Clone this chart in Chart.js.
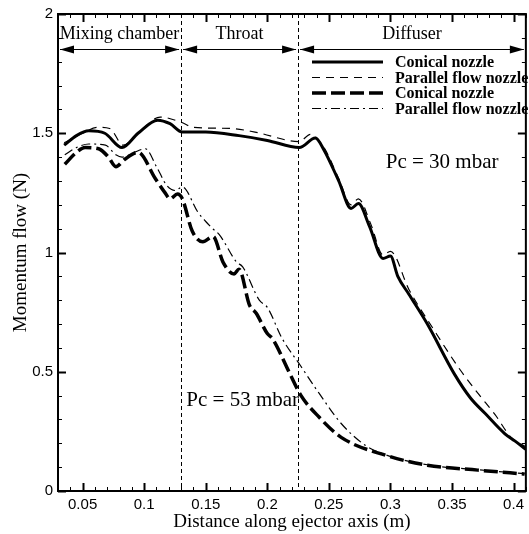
<!DOCTYPE html>
<html lang="en">
<head>
<meta charset="UTF-8">
<title>Momentum flow along ejector axis</title>
<script src="https://cdn.jsdelivr.net/npm/chart.js@4"></script>
<style>
    html, body { margin: 0; padding: 0; background: #fff; }
    canvas { display: block; }
</style>
</head>
<body>
<canvas id="chart" width="529" height="534"></canvas>
<script>
// --- data ---
const conical30X = [0.035, 0.045, 0.055, 0.068, 0.082, 0.095, 0.111, 0.121, 0.131, 0.15, 0.177, 0.2, 0.226, 0.239, 0.246, 0.258, 0.268, 0.274, 0.283, 0.294, 0.300, 0.306, 0.315, 0.330, 0.352, 0.365, 0.377, 0.393, 0.401, 0.410];
const conical30Y = [1.45, 1.49, 1.51, 1.50, 1.44, 1.50, 1.555, 1.54, 1.505, 1.505, 1.49, 1.47, 1.44, 1.48, 1.43, 1.30, 1.185, 1.205, 1.11, 0.975, 0.985, 0.90, 0.825, 0.70, 0.49, 0.39, 0.325, 0.24, 0.21, 0.175];

const parallel30X = [0.035, 0.05, 0.062, 0.072, 0.083, 0.097, 0.113, 0.130, 0.140, 0.170, 0.190, 0.226, 0.235, 0.246, 0.258, 0.268, 0.274, 0.284, 0.294, 0.300, 0.315, 0.336, 0.355, 0.371, 0.385, 0.398, 0.410];
const parallel30Y = [1.46, 1.50, 1.525, 1.52, 1.45, 1.51, 1.568, 1.546, 1.525, 1.52, 1.505, 1.465, 1.495, 1.44, 1.31, 1.20, 1.225, 1.12, 0.99, 1.005, 0.845, 0.67, 0.52, 0.41, 0.32, 0.225, 0.185];

const conical53X = [0.0355, 0.045, 0.052, 0.063, 0.071, 0.077, 0.084, 0.095, 0.109, 0.117, 0.121, 0.127, 0.131, 0.139, 0.1476, 0.156, 0.164, 0.173, 0.177, 0.1855, 0.191, 0.200, 0.204, 0.2185, 0.2274, 0.242, 0.260, 0.296, 0.330, 0.371, 0.409];
const conical53Y = [1.37, 1.42, 1.44, 1.435, 1.40, 1.36, 1.39, 1.42, 1.31, 1.25, 1.225, 1.245, 1.225, 1.09, 1.045, 1.067, 0.96, 0.91, 0.93, 0.78, 0.745, 0.66, 0.64, 0.49, 0.40, 0.31, 0.225, 0.15, 0.108, 0.0875, 0.071];

const parallel53X = [0.0355, 0.045, 0.055, 0.0685, 0.077, 0.082, 0.092, 0.101, 0.110, 0.1185, 0.125, 0.131, 0.1435, 0.150, 0.1556, 0.161, 0.175, 0.180, 0.1935, 0.200, 0.212, 0.227, 0.242, 0.260, 0.280, 0.296, 0.330, 0.371, 0.409];
const parallel53Y = [1.41, 1.44, 1.455, 1.45, 1.41, 1.40, 1.42, 1.435, 1.36, 1.28, 1.26, 1.275, 1.17, 1.13, 1.10, 1.075, 0.96, 0.94, 0.80, 0.77, 0.64, 0.525, 0.41, 0.283, 0.19, 0.152, 0.11, 0.089, 0.073];

const xTicks = [0.05, 0.1, 0.15, 0.2, 0.25, 0.3, 0.35, 0.4];
const yTicks = [0, 0.5, 1, 1.5, 2];

const sectionNames = ['Mixing chamber', 'Throat', 'Diffuser'];
const sectionEdges = [0.03, 0.13, 0.225, 0.41];

const SERIF = '"Liberation Serif", "DejaVu Serif", serif';
const SANS = '"Liberation Sans", Arial, sans-serif';

function pts(xs, ys) {
    return xs.map((x, i) => ({ x: x, y: ys[i] }));
}

// ticks inside the frame, section markers, labels, legend
const decor = {
    id: 'decor',
    beforeDatasetsDraw(chart) {
        const { ctx, chartArea: a, scales: { x } } = chart;
        ctx.save();
        ctx.strokeStyle = '#000';
        ctx.lineWidth = 1;
        ctx.setLineDash([4, 3]);
        [sectionEdges[1], sectionEdges[2]].forEach(v => {
            const px = Math.round(x.getPixelForValue(v)) + 0.5;
            ctx.beginPath();
            ctx.moveTo(px, a.top);
            ctx.lineTo(px, a.bottom);
            ctx.stroke();
        });
        ctx.restore();
    },
    afterDraw(chart) {
        const { ctx, chartArea: a, scales: { x, y } } = chart;
        ctx.save();
        ctx.strokeStyle = '#000';
        ctx.fillStyle = '#000';

        // frame
        ctx.lineWidth = 2;
        ctx.strokeRect(a.left, a.top, a.right - a.left, a.bottom - a.top);

        // x ticks (major + minor), bottom and top
        for (let i = 3; i <= 41; i++) {
            const v = i / 100;
            const major = i % 5 === 0;
            const len = major ? 8 : 4;
            const px = Math.round(x.getPixelForValue(v)) + 0.5;
            ctx.lineWidth = major ? 2 : 1;
            ctx.beginPath();
            ctx.moveTo(px, a.bottom); ctx.lineTo(px, a.bottom - len);
            ctx.moveTo(px, a.top); ctx.lineTo(px, a.top + len);
            ctx.stroke();
        }
        // y ticks, left and right
        for (let i = 0; i <= 20; i++) {
            const v = i / 10;
            const major = i % 5 === 0;
            const len = major ? 8 : 4;
            const py = Math.round(y.getPixelForValue(v)) + 0.5;
            ctx.lineWidth = major ? 2 : 1;
            ctx.beginPath();
            ctx.moveTo(a.left, py); ctx.lineTo(a.left + len, py);
            ctx.moveTo(a.right, py); ctx.lineTo(a.right - len, py);
            ctx.stroke();
        }

        // section arrows and names
        const arrowY = Math.round(y.getPixelForValue(1.854)) + 0.5;
        const nameY = y.getPixelForValue(1.915);
        ctx.font = '18px ' + SERIF;
        ctx.textAlign = 'center';
        ctx.textBaseline = 'middle';
        sectionNames.forEach((name, i) => {
            const x0 = x.getPixelForValue(sectionEdges[i]) + 2;
            const x1 = x.getPixelForValue(sectionEdges[i + 1]) - 2;
            ctx.lineWidth = 1;
            ctx.beginPath();
            ctx.moveTo(x0, arrowY); ctx.lineTo(x1, arrowY);
            ctx.stroke();
            ctx.beginPath();
            ctx.moveTo(x0, arrowY); ctx.lineTo(x0 + 14, arrowY - 4); ctx.lineTo(x0 + 14, arrowY + 4); ctx.closePath();
            ctx.moveTo(x1, arrowY); ctx.lineTo(x1 - 14, arrowY - 4); ctx.lineTo(x1 - 14, arrowY + 4); ctx.closePath();
            ctx.fill();
            ctx.fillText(name, (x0 + x1) / 2, nameY);
        });

        // pressure labels
        ctx.font = '21px ' + SERIF;
        ctx.fillText('Pc = 30 mbar', x.getPixelForValue(0.342), y.getPixelForValue(1.379));
        ctx.fillText('Pc = 53 mbar', x.getPixelForValue(0.18), y.getPixelForValue(0.379));

        // legend
        ctx.font = 'bold 16px ' + SERIF;
        ctx.textAlign = 'left';
        chart.data.datasets.forEach((ds, i) => {
            const ly = 62 + i * 15.5;
            ctx.lineWidth = ds.borderWidth;
            ctx.setLineDash(ds.borderDash || []);
            ctx.beginPath();
            ctx.moveTo(312, ly); ctx.lineTo(383, ly);
            ctx.stroke();
            ctx.setLineDash([]);
            ctx.fillText(ds.label, 395, ly + 1);
        });
        ctx.restore();
    }
};

const ctx = document.getElementById('chart').getContext('2d');
new Chart(ctx, {
    type: 'line',
    data: {
        datasets: [
            { label: 'Conical nozzle', data: pts(conical30X, conical30Y), borderColor: '#000', borderWidth: 3, borderDash: [] },
            { label: 'Parallel flow nozzle', data: pts(parallel30X, parallel30Y), borderColor: '#000', borderWidth: 1.2, borderDash: [8, 6] },
            { label: 'Conical nozzle', data: pts(conical53X, conical53Y), borderColor: '#000', borderWidth: 3.5, borderDash: [14, 5] },
            { label: 'Parallel flow nozzle', data: pts(parallel53X, parallel53Y), borderColor: '#000', borderWidth: 1.2, borderDash: [9, 4, 2, 4] }
        ]
    },
    options: {
        responsive: false,
        animation: false,
        layout: { padding: { top: 12, right: 1, left: 0, bottom: 0 } },
        plugins: { legend: { display: false }, tooltip: { enabled: false } },
        elements: {
            point: { radius: 0 },
            line: { cubicInterpolationMode: 'monotone', fill: false }
        },
        scales: {
            x: {
                type: 'linear', min: 0.03, max: 0.41,
                afterBuildTicks: s => { s.ticks = xTicks.map(v => ({ value: v })); },
                afterFit: s => { s.height = 43; },
                grid: { display: false, drawTicks: false },
                border: { display: false },
                ticks: { color: '#000', font: { family: SANS, size: 15 }, padding: 5, maxRotation: 0, autoSkip: false, callback: v => String(v) },
                title: { display: true, text: 'Distance along ejector axis (m)', color: '#000', font: { family: SERIF, size: 19 }, padding: { top: 0, bottom: 1 } }
            },
            y: {
                type: 'linear', min: 0, max: 2,
                afterBuildTicks: s => { s.ticks = yTicks.map(v => ({ value: v })); },
                afterFit: s => { s.width = 58; },
                grid: { display: false, drawTicks: false },
                border: { display: false },
                ticks: { color: '#000', font: { family: SANS, size: 15 }, padding: 5, autoSkip: false, callback: v => String(v) },
                title: { display: true, text: 'Momentum flow (N)', color: '#000', font: { family: SERIF, size: 19 }, padding: { top: 10, bottom: 0 } }
            }
        }
    },
    plugins: [decor]
});
</script>
</body>
</html>
